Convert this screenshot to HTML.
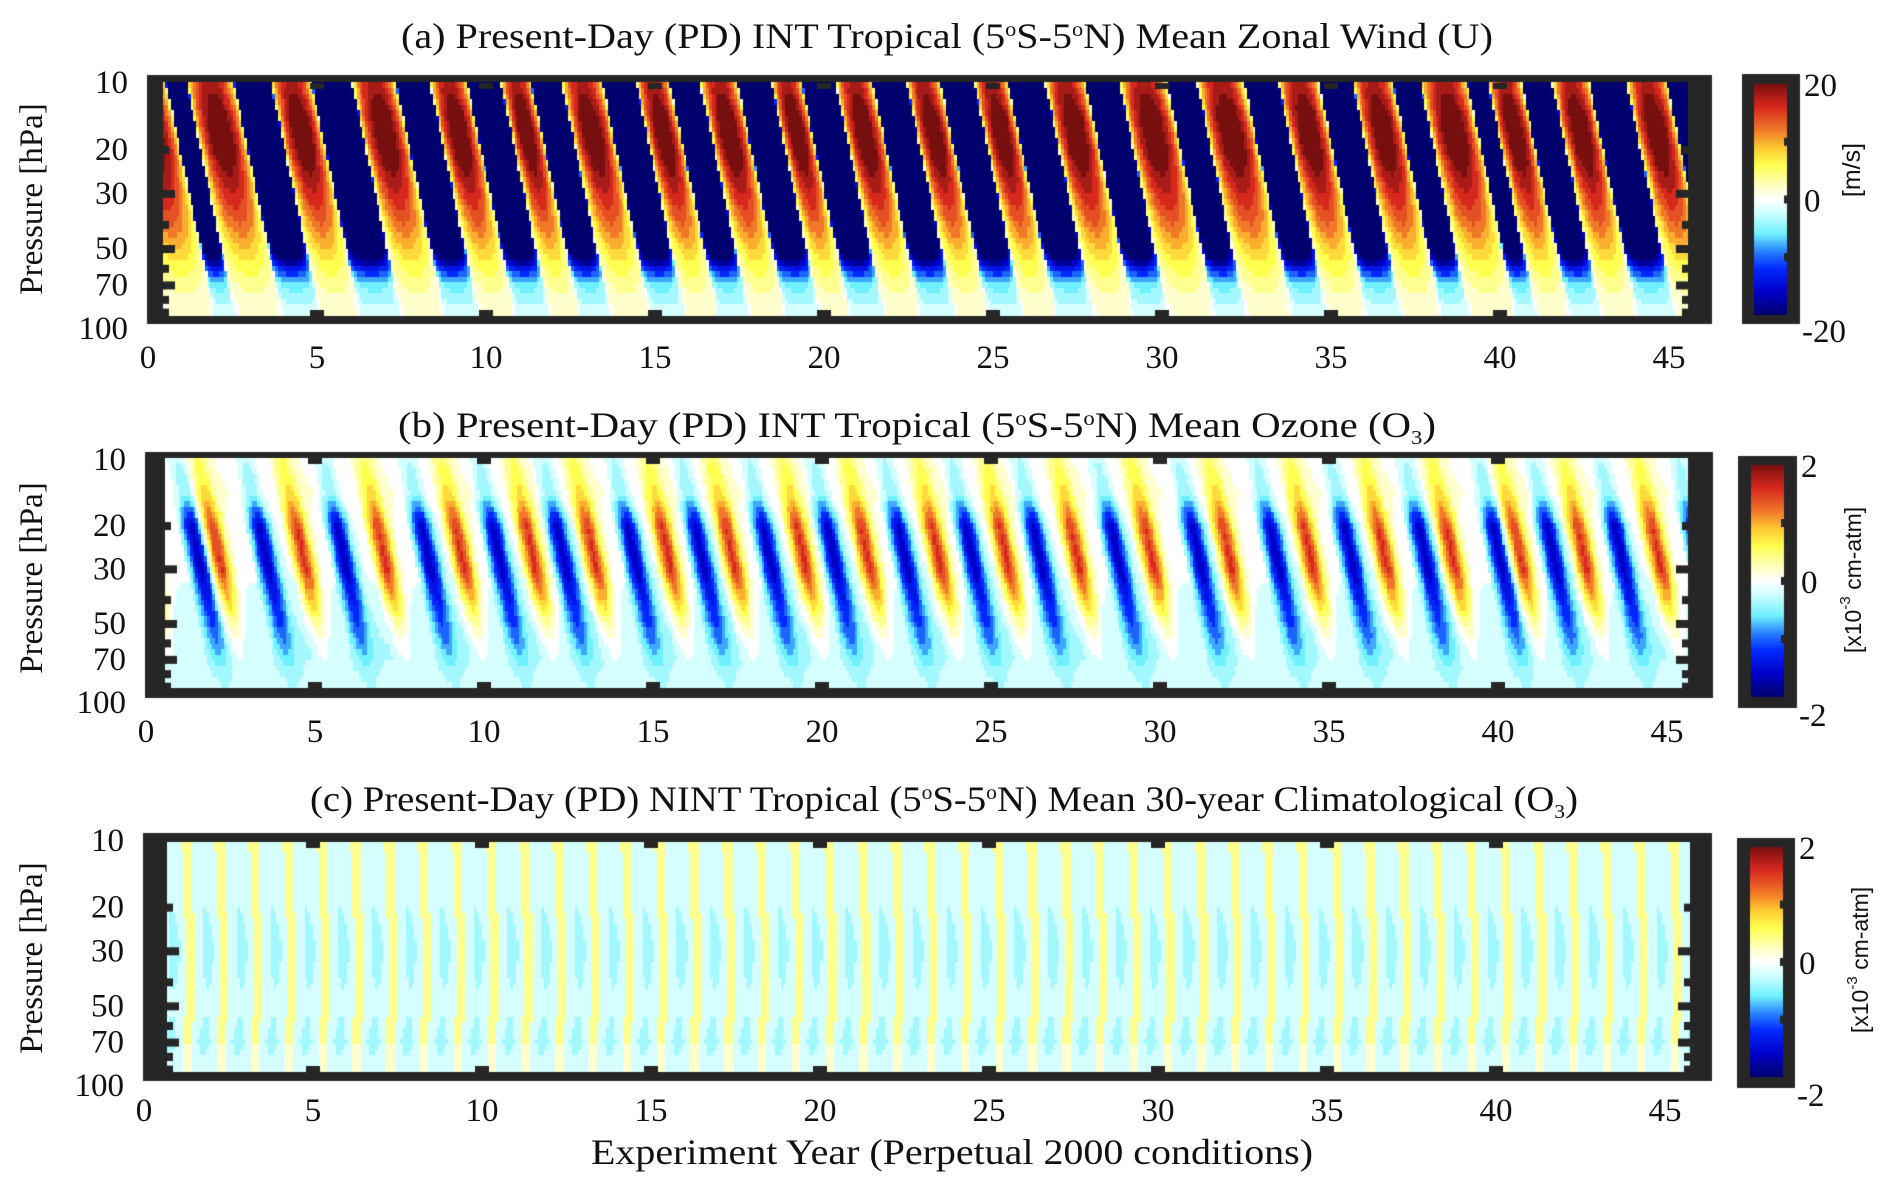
<!DOCTYPE html>
<html><head><meta charset="utf-8"><style>
html,body{margin:0;padding:0;background:#fff;width:1892px;height:1195px;overflow:hidden}
#cv{position:absolute;left:0;top:0}
#ov{position:absolute;left:0;top:0}
text{font-family:"Liberation Serif",serif;fill:#111}
.sans{font-family:"Liberation Sans",sans-serif}
</style></head><body>
<canvas id="cv" width="1892" height="1195"></canvas>
<svg id="ov" width="1892" height="1195">
 <g font-size="36">
  <text x="947" y="48" text-anchor="middle" textLength="1092" lengthAdjust="spacingAndGlyphs">(a) Present-Day (PD) INT Tropical (5<tspan font-size="20" dy="-12">o</tspan><tspan dy="12">S-5</tspan><tspan font-size="20" dy="-12">o</tspan><tspan dy="12">N) Mean Zonal Wind (U)</tspan></text>
  <text x="917" y="437" text-anchor="middle" textLength="1038" lengthAdjust="spacingAndGlyphs">(b) Present-Day (PD) INT Tropical (5<tspan font-size="20" dy="-12">o</tspan><tspan dy="12">S-5</tspan><tspan font-size="20" dy="-12">o</tspan><tspan dy="12">N) Mean Ozone (O</tspan><tspan font-size="20" dy="7">3</tspan><tspan dy="-7">)</tspan></text>
  <text x="944" y="811" text-anchor="middle" textLength="1268" lengthAdjust="spacingAndGlyphs">(c) Present-Day (PD) NINT Tropical (5<tspan font-size="20" dy="-12">o</tspan><tspan dy="12">S-5</tspan><tspan font-size="20" dy="-12">o</tspan><tspan dy="12">N) Mean 30-year Climatological (O</tspan><tspan font-size="20" dy="7">3</tspan><tspan dy="-7">)</tspan></text>
  <text x="952" y="1164" text-anchor="middle" textLength="722" lengthAdjust="spacingAndGlyphs">Experiment Year (Perpetual 2000 conditions)</text>
 </g>
 <g id="axes"></g>
</svg>
<script>
// ---- data arrays ----
const eastOnset = [0.5,2.5,4.8,7.3,9.4,11.3,13.4,15.4,17.4,19.3,21.4,23.4,25.4,27.7,30.1,32.4,34.6,36.8,39.0,40.6,42.6,44.9];
const westOnset = [-1.0,1.1,3.6,6.0,8.3,10.4,12.2,14.4,16.3,18.4,20.3,22.4,24.4,26.5,28.7,31.0,33.4,35.6,37.6,39.6,41.5,43.7,45.8];
const profLevels = [10,15,20,30,40,50,60,70,85,100];
const uAmpEast   = [40,40,40,38,34,28,14,6,3,2];
const uAmpWest   = [17,22,22,17,13,9,6,4,2,1.5];
const o3AmpNeg   = [0.3,0.6,1.6,1.6,1.2,0.9,0.6,0.3,0.15,0.1];
const o3AmpPos   = [0.4,0.7,1.5,1.6,1.1,0.6,0.35,0.2,0.1,0.05];
const o3Offset   = [0.05,0.1,0,-0.05,-0.15,-0.25,-0.3,-0.3,-0.2,-0.15];
const climLevels = [10,20,30,50,70,100];
const climPhase  = [0.25,0.33,0.42,0.38,0.30,0.28];
const climPos    = [0.3,0.3,0.35,0.3,0.3,0.25];
const climNeg    = [-0.2,-0.3,-0.34,-0.28,-0.34,-0.22];
const xTicks = [0,5,10,15,20,25,30,35,40,45];
const yTicks = [10,20,30,50,70,100];
const minorP = [20,30,40,50,60,70,80,90];
const cbTicksA = ["20","0","-20"];
const cbTicksB = ["2","0","-2"];

const PXY = 33.8;
const panels = [
 {id:'a', f:[147,75,1712,324], d:[163,83,1688,316], scale:20},
 {id:'b', f:[145,452,1713,698], d:[165,458,1688,688], scale:2},
 {id:'c', f:[143,833,1712,1081], d:[167,842,1690,1072], scale:2}
];
const cbs = [
 {f:[1742,74,1800,324], i:[1754,84,1787,315]},
 {f:[1738,456,1797,708], i:[1751,465,1784,697]},
 {f:[1737,838,1795,1088], i:[1750,847,1783,1077]}
];

function xOf(P,yr){return P.f[0]+1+yr*PXY;}
function yOf(P,p){return P.f[1]+Math.log10(p/10)*(P.f[3]-P.f[1]);}
function yrAt(P,x){return (x-P.f[0]-1)/PXY;}
function pAt(P,y){return 10*Math.pow(10,(y-P.f[1])/(P.f[3]-P.f[1]));}

function interpLog(levels,vals,p){
  const lp=Math.log10(p);
  if(p<=levels[0])return vals[0];
  for(let i=0;i<levels.length-1;i++){
    const a=Math.log10(levels[i]),b=Math.log10(levels[i+1]);
    if(lp<=b){const f=(lp-a)/(b-a);return vals[i]+(vals[i+1]-vals[i])*f;}
  }
  return vals[vals.length-1];
}
function lag(p){return 1.55*Math.log10(p/10);}
const events=[];
eastOnset.forEach(e=>events.push([e,'E']));
westOnset.forEach(w=>events.push([w,'W']));
events.sort((a,b)=>a[0]-b[0]);
function regime(tt){
  let i=-1;
  for(let k=0;k<events.length;k++){if(events[k][0]<=tt)i=k;}
  if(i<0)return {type:'W',frac:0.5,d:1};
  const nxt=events[i+1]?events[i+1][0]:events[i][0]+1.1;
  return {type:events[i][1],frac:(tt-events[i][0])/(nxt-events[i][0]),d:tt-events[i][0]};
}
function lastOf(arr,tt){let r=-99;arr.forEach(v=>{if(v<=tt)r=v;});return r;}

function windVal(t,p){
  const tt=t-lag(p);const r=regime(tt);
  const s=Math.sin(Math.PI*Math.min(Math.max(r.frac,0),1));
  if(r.type==='E')return -interpLog(profLevels,uAmpEast,p)*Math.pow(s,0.22);
  return interpLog(profLevels,uAmpWest,p)*Math.pow(s,0.5);
}
function o3Val(t,p){
  const tt=t-lag(p);
  const dw=tt-lastOf(westOnset,tt), de=tt-lastOf(eastOnset,tt);
  const g=d=>Math.exp(-Math.pow((d-0.4)/0.3,2));
  return interpLog(profLevels,o3AmpPos,p)*g(dw)-interpLog(profLevels,o3AmpNeg,p)*g(de)+interpLog(profLevels,o3Offset,p);
}
function climVal(t,p){
  const ph=interpLog(climLevels,climPhase,p);
  let d=Math.abs(((t-ph)%1+1)%1);d=Math.min(d,1-d);
  if(d<0.13)return interpLog(climLevels,climPos,p);
  return interpLog(climLevels,climNeg,p)*(0.55+0.45*Math.sin(Math.PI*(d-0.13)/0.74));
}
const stops=[[-1,[0,0,110]],[-0.8,[0,0,200]],[-0.6,[0,40,255]],[-0.45,[40,130,255]],[-0.3,[110,240,255]],[-0.12,[205,255,255]],[0,[255,255,255]],[0.12,[255,255,195]],[0.3,[255,255,80]],[0.45,[255,200,50]],[0.6,[240,120,40]],[0.8,[215,40,30]],[1,[120,15,15]]];
function cmap(v){
  v=Math.max(-1,Math.min(1,v));v=Math.round(v*10)/10;
  for(let i=0;i<stops.length-1;i++){
    if(v<=stops[i+1][0]){const f=(v-stops[i][0])/(stops[i+1][0]-stops[i][0]);
      const a=stops[i][1],b=stops[i+1][1];
      return 'rgb('+a.map((c,k)=>Math.round(c+(b[k]-c)*f)).join(',')+')';}
  }
  return 'rgb(120,15,15)';
}
const ctx=document.getElementById('cv').getContext('2d');
const DARK='#262626';
const funcs=[windVal,o3Val,climVal];
panels.forEach((P,pi)=>{
  ctx.fillStyle=DARK;ctx.fillRect(P.f[0],P.f[1],P.f[2]-P.f[0],P.f[3]-P.f[1]);
  const t0=yrAt(P,P.d[0]),t1=yrAt(P,P.d[2]);
  const nC=Math.ceil((t1-t0)*12),nR=42;
  const lp0=Math.log10(pAt(P,P.d[1])),lp1=Math.log10(pAt(P,P.d[3]));
  for(let c=0;c<nC;c++){
    const ta=t0+c/12,tb=Math.min(t1,ta+1/12);
    const xa=Math.floor(xOf(P,ta)),xb=Math.ceil(xOf(P,tb));
    for(let r=0;r<nR;r++){
      const pa=Math.pow(10,lp0+(lp1-lp0)*r/nR),pb=Math.pow(10,lp0+(lp1-lp0)*(r+1)/nR);
      const pm=Math.sqrt(pa*pb);
      const v=funcs[pi](ta+1/24,pm)/P.scale;
      ctx.fillStyle=cmap(v);
      const ya=Math.floor(yOf(P,pa)),yb=Math.ceil(yOf(P,pb));
      ctx.fillRect(xa,ya,xb-xa,yb-ya);
    }
  }
  ctx.fillStyle=DARK;
  xTicks.forEach(x=>{if(x===0||x===45)return;const xx=xOf(P,x);
    ctx.fillRect(xx-7,P.d[1],14,6);ctx.fillRect(xx-7,P.d[3]-6,14,6);});
  minorP.forEach(p=>{const yy=yOf(P,p);const long=[30,50,70].includes(p)?12:6;
    ctx.fillRect(P.d[0],yy-4,long,8);ctx.fillRect(P.d[2]-long,yy-4,long,8);});
});
cbs.forEach(C=>{
  ctx.fillStyle=DARK;ctx.fillRect(C.f[0],C.f[1],C.f[2]-C.f[0],C.f[3]-C.f[1]);
  const h=C.i[3]-C.i[1];
  for(let y=0;y<h;y++){
    const f=Math.max(-1,Math.min(1,1-2*(y+0.5)/h));
    let col;for(let i=0;i<stops.length-1;i++){if(f<=stops[i+1][0]){const g=(f-stops[i][0])/(stops[i+1][0]-stops[i][0]);const a=stops[i][1],b=stops[i+1][1];col='rgb('+a.map((c,k)=>Math.round(c+(b[k]-c)*g)).join(',')+')';break;}}
    ctx.fillStyle=col;ctx.fillRect(C.i[0],C.i[1]+y,C.i[2]-C.i[0],1);
  }
  ctx.fillStyle=DARK;
  [0.25,0.5,0.75].forEach(f=>ctx.fillRect(C.i[2]-3,C.i[1]+h*f-4,3,8));
});
const NS='http://www.w3.org/2000/svg';
const ax=document.getElementById('axes');
function txt(x,y,s,size,anchor,cls,name,rot){
  const t=document.createElementNS(NS,'text');
  t.setAttribute('x',x);t.setAttribute('y',y);t.setAttribute('font-size',size);
  t.setAttribute('text-anchor',anchor);t.setAttribute('dominant-baseline','central');
  if(cls)t.setAttribute('class',cls);
  if(rot)t.setAttribute('transform','rotate(-90 '+x+' '+y+')');
  t.textContent=s;
  
  
  ax.appendChild(t);return t;
}
const xLabY=[358,732,1111];
const yTitleY=[199,578,958];
panels.forEach((P,pi)=>{
  xTicks.forEach(x=>txt(xOf(P,x),xLabY[pi],String(x),33,'middle','','x-tick-label'));
  yTicks.forEach(p=>{let yy=yOf(P,p);if(p===10)yy+=8;if(p===100)yy+=5;
    txt(P.f[0]-19,yy,String(p),33,'end','','y-tick-label');});
  txt(32,yTitleY[pi],'Pressure [hPa]',33,'middle','','y-axis-title',true);
});
const cbL=[cbTicksA,cbTicksB,cbTicksB];
cbs.forEach((C,ci)=>{
  const lab=cbL[ci];
  txt(C.f[2]+4,C.i[1]+2,lab[0],33,'start','','colorbar-tick-label');
  txt(C.f[2]+4,(C.i[1]+C.i[3])/2+2,lab[1],33,'start','','colorbar-tick-label');
  txt(C.f[2]+2,C.f[3]+8,lab[2],33,'start','','colorbar-tick-label');
});
txt(1852,170,'[m/s]',25,'middle','sans','colorbar-unit-a',true);
const u2=txt(1853,580,'',23,'middle','sans','colorbar-unit-b',true);
u2.innerHTML='[x10<tspan dy="-8" font-size="15">-3</tspan><tspan dy="8"> cm-atm]</tspan>';
const u3=txt(1860,960,'',23,'middle','sans','colorbar-unit-c',true);
u3.innerHTML='[x10<tspan dy="-8" font-size="15">-3</tspan><tspan dy="8"> cm-atm]</tspan>';
</script>
</body></html>
